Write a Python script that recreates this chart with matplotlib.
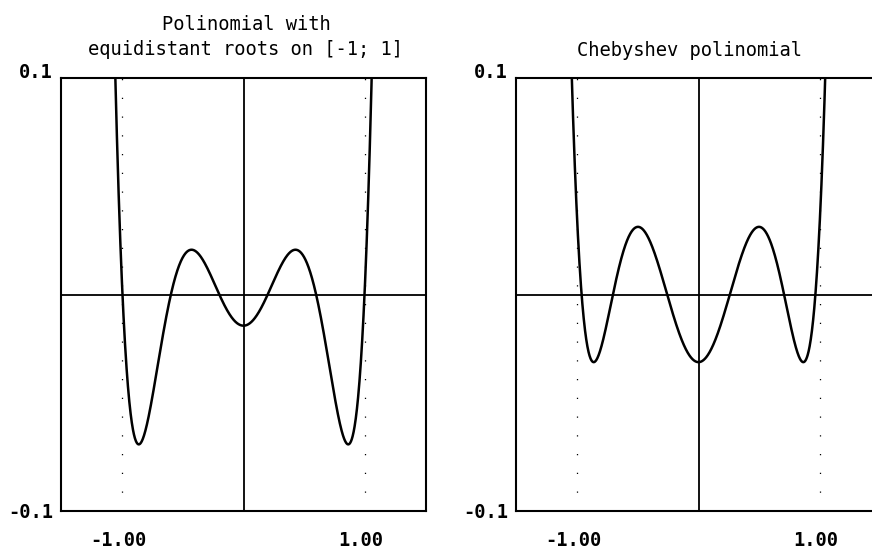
#!/usr/bin/env python3
"""Equidistant-root polynomial vs Chebyshev polynomial, DOS-plot style."""

import matplotlib

matplotlib.use("Agg")
import matplotlib.pyplot as plt
import numpy as np

# ---------------------------------------------------------------------------
# Data (roots: zero crossings of each curve)
# ---------------------------------------------------------------------------
equi_roots = [-1.0, -0.6, -0.2, 0.2, 0.6, 1.0]
cheb_roots = [-0.9659, -0.7071, -0.2588, 0.2588, 0.7071, 0.9659]
titles = ["Polinomial with\nequidistant roots on [-1; 1]", "Chebyshev polinomial"]
xtick_vals = [-1.0, 1.0]
xtick_labels = ["-1.00", "1.00"]
ylims = (-0.1, 0.1)
ylabels = ["0.1", "-0.1"]

FONT = "DejaVu Sans Mono"
FS = 13.5

fig = plt.figure(figsize=(8.72, 5.54), dpi=100)
W, H = 872, 554


def px_axes(x0, y_top, w, h):
    return fig.add_axes([x0 / W, 1 - (y_top + h) / H, w / W, h / H])


axes = [px_axes(61, 78, 365, 433), px_axes(516, 78, 365, 433)]
title_x = [246, 689]
title_y = [37, 50]

for ax, roots, title, tx, ty in zip(axes, [equi_roots, cheb_roots], titles, title_x, title_y):
    xs = np.linspace(-1.6, 1.6, 2000)
    ys = np.polyval(np.poly(roots), xs)
    ax.set_xlim(-1.508, 1.508)
    ax.set_ylim(*ylims)

    # axes through origin, dotted guides at the interval ends
    ax.axvline(0, color="black", lw=1.3)
    ax.axhline(0, color="black", lw=1.3)
    for xv in xtick_vals:
        ax.axvline(xv, color="black", lw=0.9, ls=(0, (1, 14)))
    ax.plot(xs, ys, color="black", lw=1.8)

    for sp in ax.spines.values():
        sp.set_linewidth(1.5)
    ax.set_xticks([])
    ax.set_yticks([])

    for xv, lab in zip(xtick_vals, xtick_labels):
        ax.annotate(lab, (xv, 0), xycoords=("data", "axes fraction"),
                    xytext=(-4, -29), textcoords="offset pixels",
                    ha="center", va="center", family=FONT, fontsize=FS,
                    fontweight="bold")
    ax.annotate(ylabels[0], (0, 1), xycoords="axes fraction",
                xytext=(-8, 5), textcoords="offset pixels",
                ha="right", va="center", family=FONT, fontsize=FS,
                fontweight="bold")
    ax.annotate(ylabels[1], (0, 0), xycoords="axes fraction",
                xytext=(-8, -2), textcoords="offset pixels",
                ha="right", va="center", family=FONT, fontsize=FS,
                fontweight="bold")

    fig.text(tx / W, 1 - ty / H, title, ha="center", va="center",
             family=FONT, fontsize=FS, linespacing=1.45)

fig.savefig("out.png", dpi=100)
